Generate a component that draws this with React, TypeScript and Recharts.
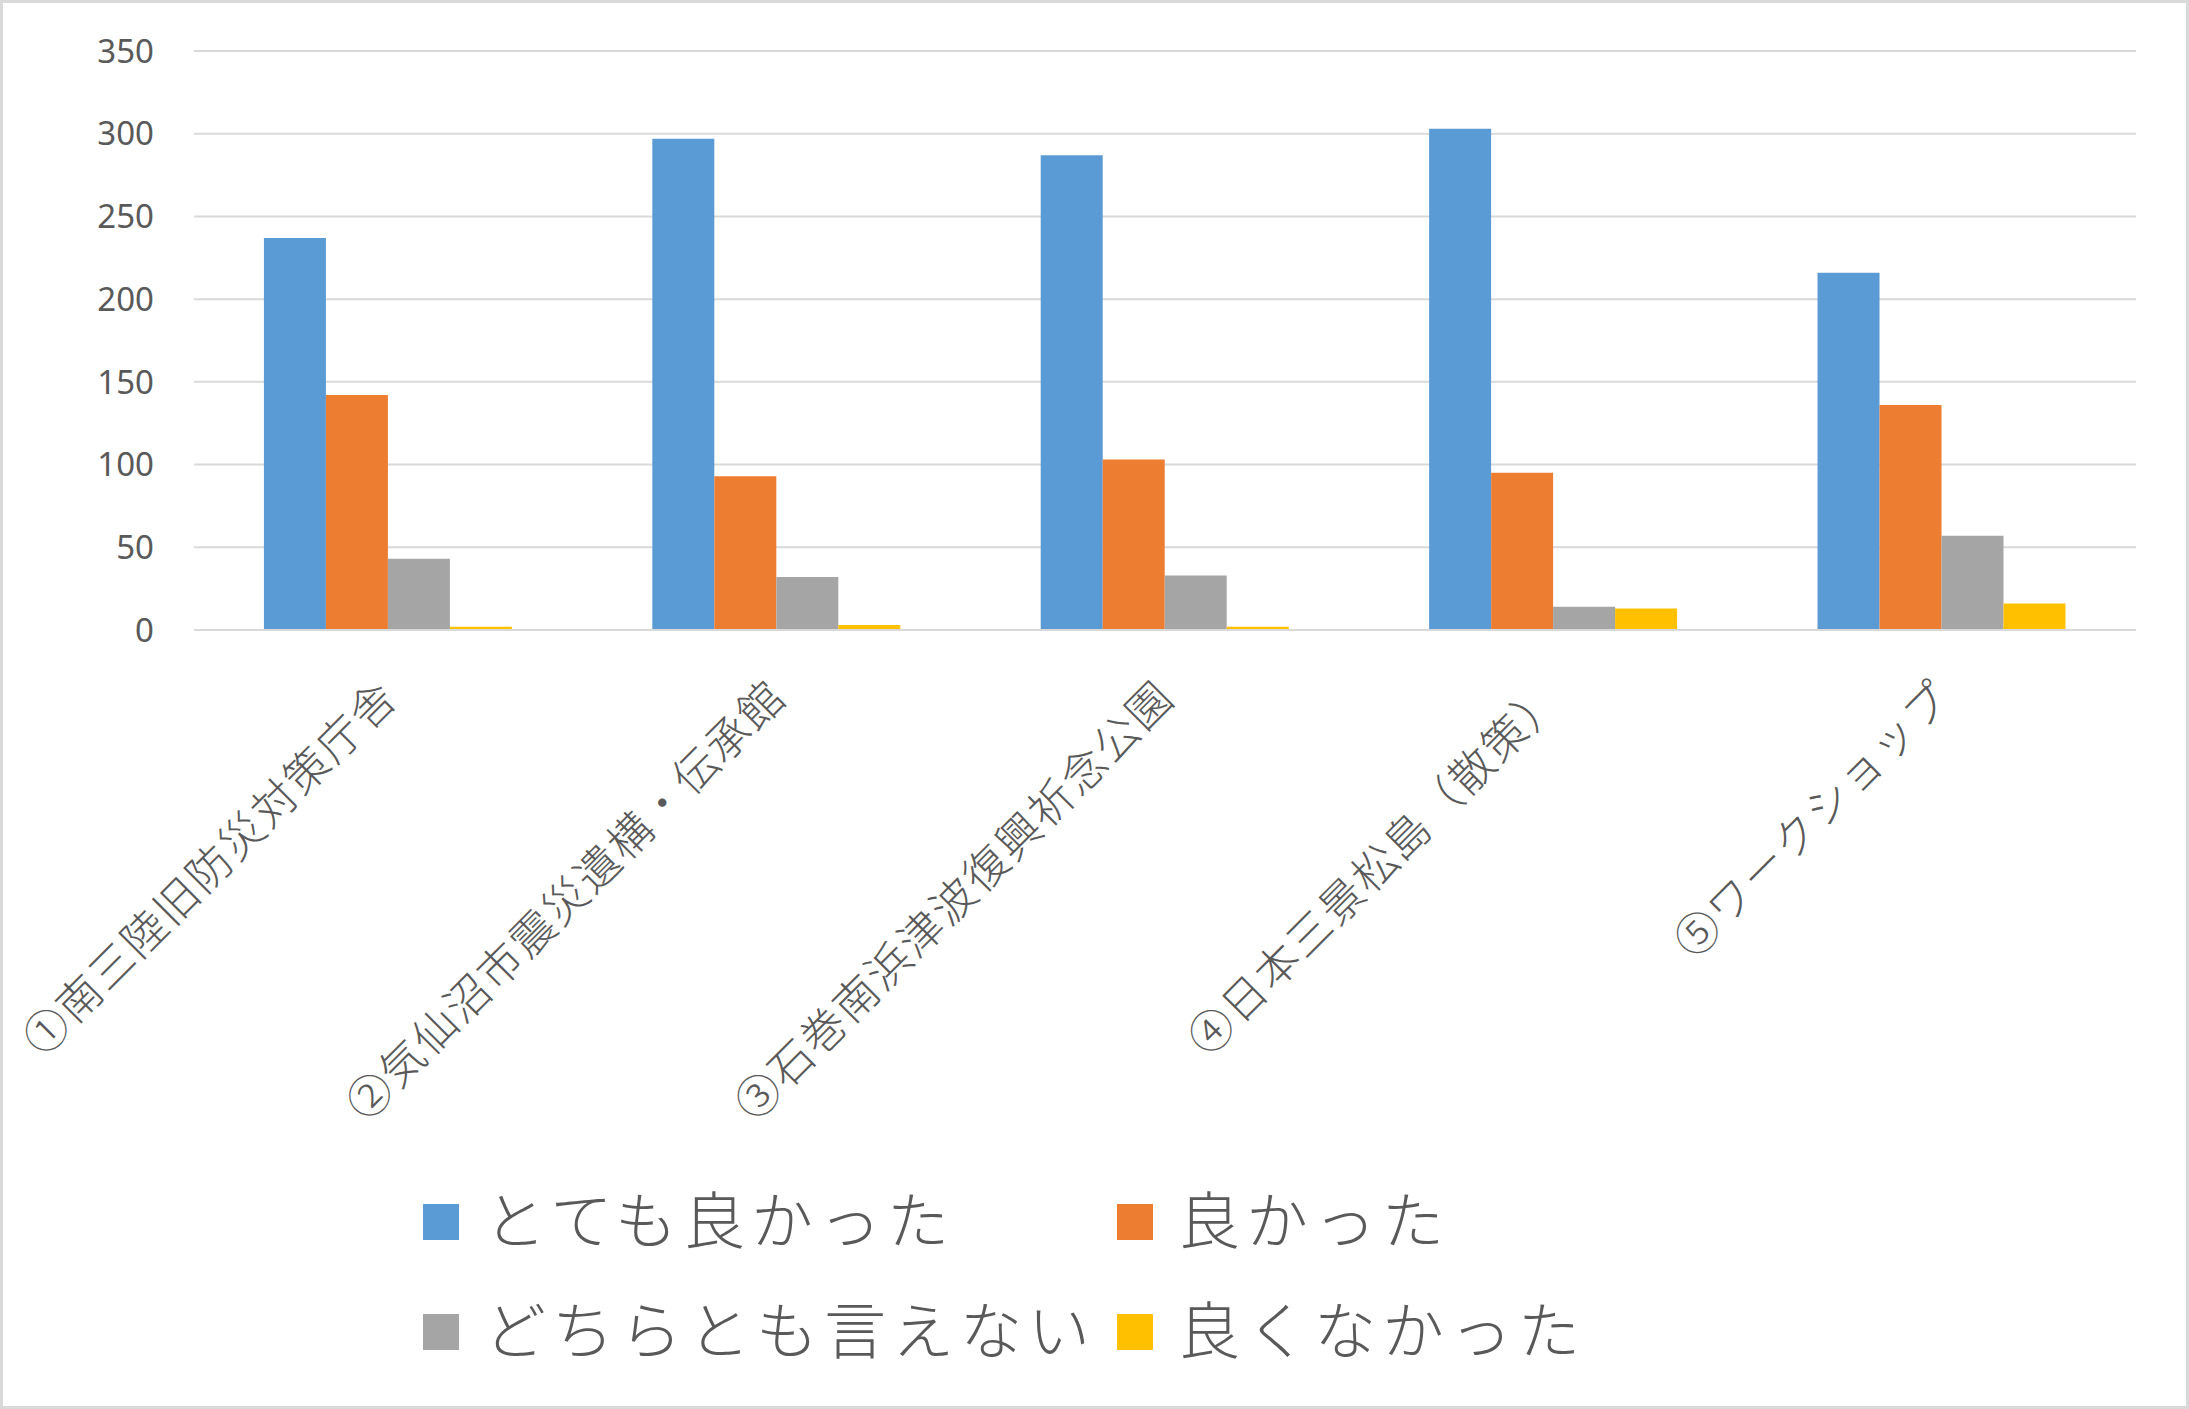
import React from 'react';
import { BarChart, Bar, XAxis, YAxis, CartesianGrid } from 'recharts';

// survey answers per visited site
const categories = [
    '①南三陸旧防災対策庁舎',
    '②気仙沼市震災遺構・伝承館',
    '③石巻南浜津波復興祈念公園',
    '④日本三景松島（散策）',
    '⑤ワークショップ',
];
const veryGood = [237, 297, 287, 303, 216];
const good = [142, 93, 103, 95, 136];
const neutral = [43, 32, 33, 14, 57];
const notGood = [2, 3, 2, 13, 16];
const yTicks = [0, 50, 100, 150, 200, 250, 300, 350];

const seriesNames = ['とても良かった', '良かった', 'どちらとも言えない', '良くなかった'];
const seriesKeys = ['veryGood', 'good', 'neutral', 'notGood'];
const seriesColors = ['#5B9BD5', '#ED7D31', '#A5A5A5', '#FFC000'];

const chartData = categories.map((name, i) => ({
    name,
    veryGood: veryGood[i],
    good: good[i],
    neutral: neutral[i],
    notGood: notGood[i],
}));

const W = 2189;
const H = 1409;
const JP_FONT = '"Noto Sans CJK JP", "Noto Sans", sans-serif';

const CategoryTick = (props: any) => {
    const { x, y, payload } = props;
    const px = x + 12;
    const py = y + 62;
    return (
        <text
            x={px}
            y={py}
            textAnchor="end"
            transform={`rotate(-45, ${px}, ${py})`}
            fill="#595959"
            fontSize={44}
            fontWeight={300}
            letterSpacing={2}
            fontFamily={JP_FONT}
        >
            {payload.value}
        </text>
    );
};

// legend positions (2 x 2 grid)
const legendCells = [
    { left: 423, top: 1219 },
    { left: 1117, top: 1219 },
    { left: 423, top: 1329 },
    { left: 1117, top: 1329 },
];

const App: React.FC = () => {
    return (
        <div style={{ position: 'absolute', left: 0, top: 0, width: W, height: H, background: '#fff' }}>
            <BarChart
                width={W}
                height={H}
                data={chartData}
                margin={{ top: 51, right: 53, left: 0, bottom: 0 }}
                barGap={0}
                barCategoryGap="18%"
            >
                <CartesianGrid vertical={false} stroke="#D9D9D9" strokeWidth={2} />
                <XAxis
                    dataKey="name"
                    height={779}
                    interval={0}
                    tickLine={false}
                    axisLine={{ stroke: '#D9D9D9', strokeWidth: 2 }}
                    tick={<CategoryTick />}
                />
                <YAxis
                    width={194}
                    domain={[0, 350]}
                    ticks={yTicks}
                    axisLine={false}
                    tickLine={false}
                    tickSize={0}
                    tickMargin={40}
                    tick={{ fill: '#595959', fontSize: 33, fontFamily: '"Noto Sans", sans-serif' }}
                />
                {seriesKeys.map((key, i) => (
                    <Bar
                        key={key}
                        dataKey={key}
                        name={seriesNames[i]}
                        fill={seriesColors[i]}
                        isAnimationActive={false}
                    />
                ))}
            </BarChart>

            {seriesNames.map((name, i) => (
                <div
                    key={name}
                    style={{
                        position: 'absolute',
                        left: legendCells[i].left,
                        top: legendCells[i].top - 45,
                        height: 90,
                        display: 'flex',
                        alignItems: 'center',
                        fontFamily: JP_FONT,
                        fontSize: 62,
                        fontWeight: 300,
                        letterSpacing: 6,
                        color: '#595959',
                        whiteSpace: 'nowrap',
                    }}
                >
                    <span style={{ width: 36, height: 36, background: seriesColors[i], marginRight: 25, marginTop: 6 }} />
                    <span style={{ marginTop: -4 }}>{name}</span>
                </div>
            ))}

            <div
                style={{
                    position: 'absolute',
                    left: 0,
                    top: 0,
                    width: W,
                    height: H,
                    boxSizing: 'border-box',
                    border: '3px solid #D9D9D9',
                    pointerEvents: 'none',
                }}
            />
        </div>
    );
};

export default App;
